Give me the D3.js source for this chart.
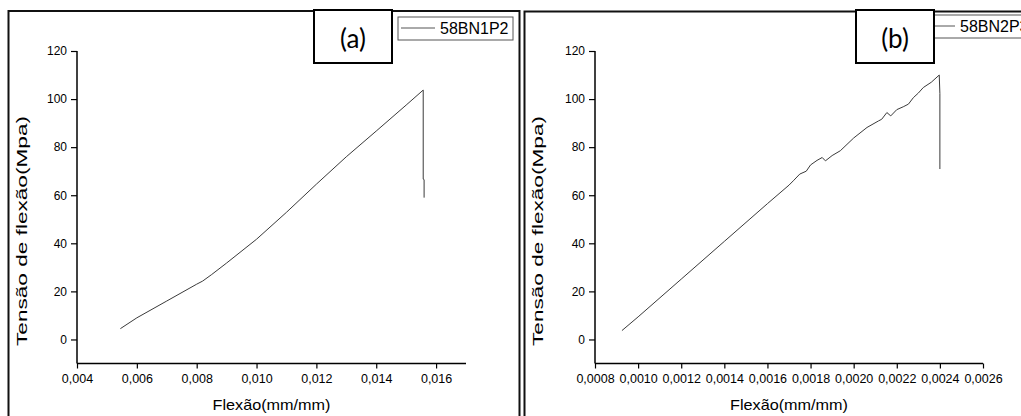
<!DOCTYPE html>
<html><head><meta charset="utf-8">
<script src="https://cdn.jsdelivr.net/npm/d3@7"></script>
<style>
body{margin:0;background:#fff;}
svg{display:block;}
text{font-family:"Liberation Sans",Arial,sans-serif;fill:#000;}
</style></head>
<body><svg id="c" width="1021" height="416"></svg>
<script>
// ---- data ----
const strainA = [0.00545, 0.006, 0.007, 0.008, 0.0082, 0.0085, 0.009, 0.010, 0.011, 0.012, 0.013, 0.014, 0.015, 0.01557, 0.01557, 0.0156, 0.0156];
const stressA = [4.5, 9, 16, 23, 24.3, 27.0, 31.8, 41.7, 52.9, 64.6, 76, 86.7, 97.5, 103.75, 66.7, 66.5, 59];
const strainB = [0.000925, 0.0010, 0.0012, 0.0014, 0.0016, 0.0017, 0.00172, 0.00175, 0.00178, 0.0018, 0.00183, 0.001854, 0.001869, 0.0019, 0.001938, 0.0020, 0.002062, 0.002115, 0.00213, 0.002154, 0.002172, 0.0022, 0.00223, 0.002254, 0.002277, 0.0023, 0.002323, 0.00236, 0.002397, 0.0024, 0.0024];
const stressB = [3.7, 9.4, 25.1, 40.8, 56.5, 64.2, 66, 68.8, 70, 72.6, 74.5, 75.7, 74.3, 76.5, 78.5, 83.8, 88.2, 90.9, 91.6, 94.4, 93.0, 95.6, 96.8, 97.9, 100.6, 102.5, 104.8, 107, 110.0, 102.3, 70.9];
const ticksA = [0.004, 0.006, 0.008, 0.010, 0.012, 0.014, 0.016];
const ticksB = [0.0008, 0.0010, 0.0012, 0.0014, 0.0016, 0.0018, 0.0020, 0.0022, 0.0024, 0.0026];
const ticksY = [0, 20, 40, 60, 80, 100, 120];
const seriesNames = ["58BN1P2", "58BN2P3"];
const panelLabels = ["(a)", "(b)"];
const xTitle = "Flexão(mm/mm)";
const yTitle = "Tensão de flexão(Mpa)";

const svg = d3.select("#c");
const fmt = (d, n) => d.toFixed(n).replace(".", ",");

function panel(cfg) {
  const g = svg.append("g");
  // outer panel border
  g.append("path")
    .attr("d", `M${cfg.bx0},420 V${cfg.by} H${cfg.bx1} V420`)
    .attr("fill", "none").attr("stroke", "#111").attr("stroke-width", 2);

  const x = d3.scaleLinear().domain(cfg.xdom).range(cfg.xr);
  const y = d3.scaleLinear().domain([-10, 120]).range([363.5, 51]);

  // y axis
  const ya = g.append("g").attr("transform", `translate(${cfg.xr[0]},0)`);
  ya.call(d3.axisLeft(y).tickValues(d3.range(-10, 121, 10).filter(v => v % 20 !== 0)).tickSize(3).tickFormat(""));
  ya.call(d3.axisLeft(y).tickValues(ticksY).tickSize(6).tickPadding(4).tickFormat(d => d));
  ya.select(".domain").remove();
  ya.selectAll("line").attr("stroke", "#000").attr("stroke-width", 1.2);
  ya.selectAll("text").style("font-size", "12px").style("font-family", "Liberation Sans, Arial");
  g.append("line").attr("x1", cfg.xr[0]).attr("x2", cfg.xr[0]).attr("y1", 51).attr("y2", 363.5)
    .attr("stroke", "#000").attr("stroke-width", 1.5);

  // x axis
  const xa = g.append("g").attr("transform", `translate(0,363.5)`);
  xa.call(d3.axisBottom(x).tickValues(cfg.minor).tickSize(4).tickFormat(""));
  xa.call(d3.axisBottom(x).tickValues(cfg.ticks).tickSize(5).tickPadding(6).tickFormat(d => fmt(d, cfg.dec)));
  xa.select(".domain").remove();
  xa.selectAll("line").attr("stroke", "#000").attr("stroke-width", 1.2);
  xa.selectAll("text").style("font-size", "12.5px").style("font-family", "Liberation Sans, Arial");
  g.append("line").attr("x1", cfg.xr[0]).attr("x2", cfg.xr[1]).attr("y1", 363.5).attr("y2", 363.5)
    .attr("stroke", "#000").attr("stroke-width", 1.5);

  // data line
  const pts = cfg.xs.map((v, i) => [v, cfg.ys[i]]);
  g.append("path").datum(pts)
    .attr("d", d3.line().x(d => x(d[0])).y(d => y(d[1])))
    .attr("fill", "none").attr("stroke", "#3a3a3a").attr("stroke-width", 1);

  // titles
  g.append("text").attr("x", (cfg.xr[0] + cfg.xr[1]) / 2).attr("y", 410)
    .attr("text-anchor", "middle").style("font-size", "15px")
    .attr("textLength", 118).attr("lengthAdjust", "spacingAndGlyphs").text(xTitle);
  g.append("text").attr("transform", `translate(${cfg.ytx},231) rotate(-90)`)
    .attr("text-anchor", "middle").style("font-size", "15px")
    .attr("textLength", 230).attr("lengthAdjust", "spacingAndGlyphs").text(yTitle);

  // legend
  g.append("rect").attr("x", cfg.lx).attr("y", cfg.ly).attr("width", 115).attr("height", 23)
    .attr("fill", "#fff").attr("stroke", "#555").attr("stroke-width", 1);
  g.append("line").attr("x1", cfg.lx + 3).attr("x2", cfg.lx + 37).attr("y1", cfg.ly + 11).attr("y2", cfg.ly + 11)
    .attr("stroke", "#555").attr("stroke-width", 1);
  g.append("text").attr("x", cfg.lx + 42).attr("y", cfg.ly + 17).style("font-size", "16px").text(cfg.name);

  // panel label box
  g.append("rect").attr("x", cfg.px).attr("y", 10).attr("width", 78).attr("height", 53)
    .attr("fill", "#fff").attr("stroke", "#000").attr("stroke-width", 2);
  g.append("text").attr("x", cfg.px + 39).attr("y", 48).attr("text-anchor", "middle")
    .style("font-family", "Lato, 'Open Sans', sans-serif").style("font-size", "26px").text(cfg.label);
}

panel({bx0: 8.5, bx1: 519.5, by: 11, xdom: [0.004, 0.017], xr: [77, 466],
  ticks: ticksA, minor: d3.range(0.005, 0.0171, 0.002), dec: 3,
  xs: strainA, ys: stressA, ytx: 27, lx: 398, ly: 17, name: seriesNames[0], px: 314, label: panelLabels[0]});
panel({bx0: 524.5, bx1: 1030, by: 11.5, xdom: [0.0008, 0.0026], xr: [595, 983],
  ticks: ticksB, minor: d3.range(0.0009, 0.00261, 0.0002), dec: 4,
  xs: strainB, ys: stressB, ytx: 543, lx: 918, ly: 15, name: seriesNames[1], px: 856, label: panelLabels[1]});
</script></body></html>
